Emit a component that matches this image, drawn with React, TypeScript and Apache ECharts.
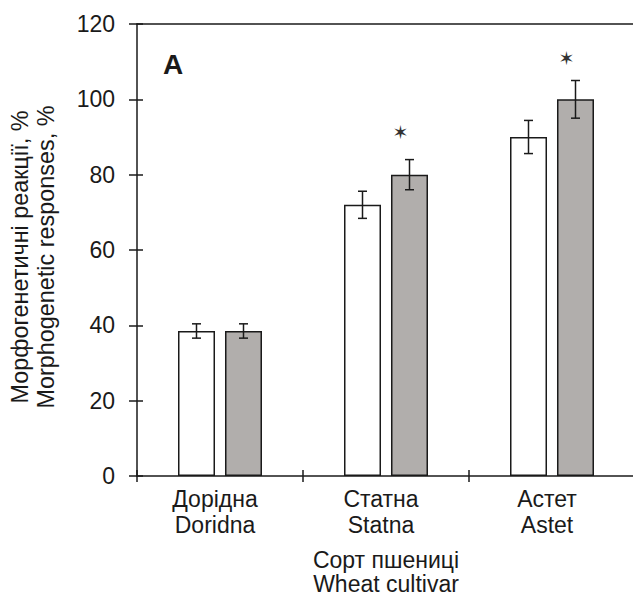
import React, { useEffect, useRef } from "react";
import * as echarts from "echarts";

const categories = ["Дорідна\nDoridna", "Статна\nStatna", "Астет\nAstet"];
const controlValues = [38.5, 72, 90];
const controlErrors = [1.9, 3.6, 4.4];
const treatedValues = [38.5, 80, 100];
const treatedErrors = [1.9, 4.0, 5.0];
const starPositions: (number | null)[] = [null, 91.2, 110.9];
const yMin = 0;
const yMax = 120;
const yInterval = 20;
const yAxisName = "Морфогенетичні реакції, %\nMorphogenetic responses, %";
const xAxisName = "Сорт пшениці\nWheat cultivar";
const panelLabel = "A";

const FONT = '"Liberation Sans", Arial, sans-serif';
const INK = "#1a1a1a";
const BAR_OFFSET = 23.5;

export default function App() {
  const ref = useRef<HTMLDivElement>(null);
  useEffect(() => {
    if (!ref.current) return;
    const chart = echarts.init(ref.current, null, { renderer: "svg" });

    const errData = (vals: number[], errs: number[], sign: number) =>
      vals.map((v, i) => [i, v, errs[i], sign]);

    const errorRender = (params: any, api: any) => {
      const i = api.value(0);
      const v = api.value(1);
      const e = api.value(2);
      const sign = api.value(3);
      const hi = api.coord([i, v + e]);
      const lo = api.coord([i, v - e]);
      const x = hi[0] + sign * BAR_OFFSET;
      const cap = 4.5;
      const st = { stroke: INK, lineWidth: 1.5 };
      return {
        type: "group",
        children: [
          { type: "line", shape: { x1: x, y1: hi[1], x2: x, y2: lo[1] }, style: st },
          { type: "line", shape: { x1: x - cap, y1: hi[1], x2: x + cap, y2: hi[1] }, style: st },
          { type: "line", shape: { x1: x - cap, y1: lo[1], x2: x + cap, y2: lo[1] }, style: st },
        ],
      };
    };

    const starData = starPositions
      .map((v, i) => (v == null ? null : [i, v]))
      .filter((d) => d !== null);

    const starRender = (params: any, api: any) => {
      const p = api.coord([api.value(0), api.value(1)]);
      return {
        type: "text",
        x: p[0] + BAR_OFFSET - 9,
        y: p[1],
        style: {
          text: "✶",
          font: '19px "DejaVu Sans"',
          fill: "#333",
          align: "center",
          verticalAlign: "middle",
          textAlign: "center",
          textVerticalAlign: "middle",
        },
      };
    };

    const grid = { left: 137, top: 24, width: 498, height: 452, outerBoundsMode: "none", containLabel: false };

    chart.setOption({
      animation: false,
      grid,
      graphic: [
        {
          type: "text",
          left: 163,
          top: 50,
          style: { text: panelLabel, font: `bold 28px ${FONT}`, fill: INK },
        },
      ],
      xAxis: [
        {
          type: "category",
          data: categories,
          position: "bottom",
          axisLine: { show: true, lineStyle: { color: INK, width: 1.5 } },
          axisTick: { show: true, inside: false, length: 6, lineStyle: { color: INK, width: 1.5 } },
          axisLabel: {
            color: INK,
            fontFamily: FONT,
            fontSize: 23,
            lineHeight: 26,
            margin: 10,
            padding: [0, 10, 0, 0],
          },
          name: xAxisName,
          nameLocation: "middle",
          nameGap: 72,
          nameTextStyle: { color: INK, fontFamily: FONT, fontSize: 23, lineHeight: 24 },
        },
        {
          type: "category",
          data: categories,
          position: "bottom",
          axisLine: { show: false },
          axisTick: { show: true, inside: true, length: 6, lineStyle: { color: INK, width: 1.5 } },
          axisLabel: { show: false },
        },
        {
          type: "category",
          data: categories,
          position: "top",
          axisLine: { show: true, lineStyle: { color: INK, width: 1.5 } },
          axisTick: { show: false },
          axisLabel: { show: false },
        },
      ],
      yAxis: [
        {
          type: "value",
          min: yMin,
          max: yMax,
          interval: yInterval,
          position: "left",
          splitLine: { show: false },
          axisLine: { show: true, lineStyle: { color: INK, width: 1.5 } },
          axisTick: { show: true, inside: false, length: 8, lineStyle: { color: INK, width: 1.5 } },
          axisLabel: { color: INK, fontFamily: FONT, fontSize: 23, margin: 22 },
          name: yAxisName,
          nameLocation: "middle",
          nameGap: 78,
          nameTextStyle: {
            color: INK,
            fontFamily: FONT,
            fontSize: 23.4,
            lineHeight: 26,
            padding: [0, 14, 0, 0],
          },
        },
        {
          type: "value",
          min: yMin,
          max: yMax,
          interval: yInterval,
          position: "left",
          splitLine: { show: false },
          axisLine: { show: false },
          axisTick: { show: true, inside: true, length: 6, lineStyle: { color: INK, width: 1.5 } },
          axisLabel: { show: false },
        },
      ],
      series: [
        {
          type: "bar",
          data: controlValues,
          barWidth: 37,
          barGap: "27%",
          itemStyle: { color: "#ffffff", borderColor: INK, borderWidth: 1.5 },
        },
        {
          type: "bar",
          data: treatedValues,
          barWidth: 37,
          barGap: "27%",
          itemStyle: { color: "#b1aeac", borderColor: INK, borderWidth: 1.5 },
        },
        {
          type: "custom",
          renderItem: errorRender,
          data: errData(controlValues, controlErrors, -1),
          z: 5,
        },
        {
          type: "custom",
          renderItem: errorRender,
          data: errData(treatedValues, treatedErrors, 1),
          z: 5,
        },
        {
          type: "custom",
          renderItem: starRender,
          data: starData,
          z: 5,
        },
      ],
    });
    return () => chart.dispose();
  }, []);

  return (
    <div
      ref={ref}
      style={{ position: "fixed", left: 0, top: 0, width: 633, height: 598, background: "#fff" }}
    />
  );
}
